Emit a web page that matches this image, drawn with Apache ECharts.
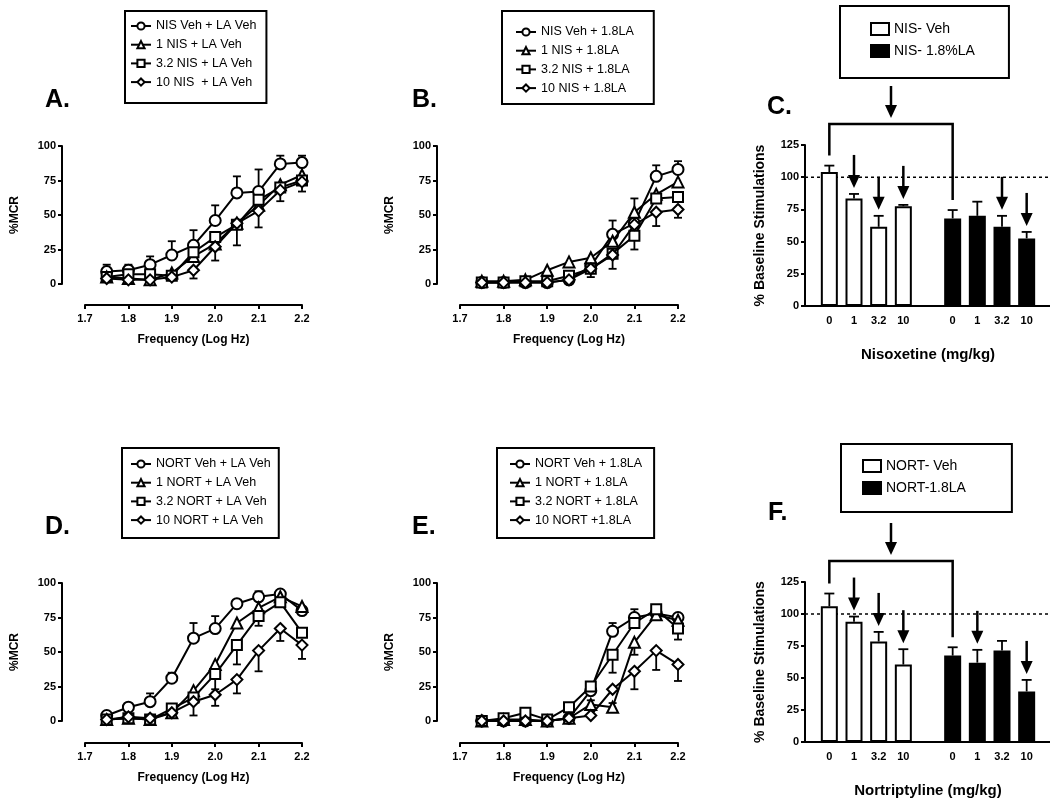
<!DOCTYPE html>
<html>
<head>
<meta charset="utf-8">
<title>Nisoxetine / Nortriptyline ICSS</title>
<script src="https://cdn.jsdelivr.net/npm/echarts@6/dist/echarts.min.js"></script>
<style>
    html, body { margin: 0; padding: 0; background: #fff; }
    #main { width: 1050px; height: 806px; }
</style>
</head>
<body>
<div id="main"></div>
<script>
    // frequency (log Hz) of each stimulation point
    var freq = [1.75, 1.8, 1.85, 1.9, 1.95, 2.0, 2.05, 2.1, 2.15, 2.2];

    // A. NIS + LA vehicle  (err > 0 drawn up, < 0 drawn down, 0 = hidden)
    var aNames = ['NIS Veh + LA Veh', '1 NIS + LA Veh', '3.2 NIS + LA Veh', '10 NIS  + LA Veh'];
    var aVeh = [9, 10, 14, 21, 28, 46, 66, 67, 87, 88];
    var aVehErr = [5, 4, 6, 10, 11, 11, 12, 16, 6, 5];
    var aN1 = [5, 4, 3, 8, 20, 29, 44, 57, 72, 79];
    var aN1Err = [0, 0, 0, 0, 0, 0, 0, 0, 0, 0];
    var aN32 = [5, 7, 7, 6, 23, 34, 43, 61, 70, 75];
    var aN32Err = [0, 0, 0, 0, 0, 0, 0, 0, 0, 0];
    var aN10 = [4, 3, 3, 5, 10, 27, 44, 53, 68, 74];
    var aN10Err = [0, 0, 0, 0, -6, -10, -16, -12, -8, -7];

    // B. NIS + 1.8 LA
    var bNames = ['NIS Veh + 1.8LA', '1 NIS + 1.8LA', '3.2 NIS + 1.8LA', '10 NIS + 1.8LA'];
    var bVeh = [1, 1, 1, 1, 3, 13, 36, 44, 78, 83];
    var bVehErr = [0, 0, 0, 0, 0, 0, 10, 0, 8, 6];
    var bN1 = [2, 2, 3, 10, 16, 19, 31, 52, 65, 74];
    var bN1Err = [0, 0, 0, 0, 0, 0, 0, 10, 0, 0];
    var bN32 = [1, 1, 2, 2, 6, 11, 22, 35, 62, 63];
    var bN32Err = [0, 0, 0, 0, 0, 0, 0, -10, 0, 0];
    var bN10 = [1, 1, 1, 1, 3, 11, 21, 43, 52, 54];
    var bN10Err = [0, 0, 0, 0, 0, -6, -10, 0, -10, -6];

    // D. NORT + LA vehicle
    var dNames = ['NORT Veh + LA Veh', '1 NORT + LA Veh', '3.2 NORT + LA Veh', '10 NORT + LA Veh'];
    var dVeh = [4, 10, 14, 31, 60, 67, 85, 90, 92, 80];
    var dVehErr = [0, 0, 6, 4, 11, 9, 0, 4, 2, 0];
    var dN1 = [1, 2, 1, 6, 22, 41, 71, 82, 90, 83];
    var dN1Err = [0, 0, 0, 0, 0, 0, 0, 0, 0, 0];
    var dN32 = [1, 2, 1, 9, 17, 34, 55, 76, 86, 64];
    var dN32Err = [0, 0, 0, 0, 0, -11, -14, -7, 0, 0];
    var dN10 = [1, 3, 2, 6, 14, 19, 30, 51, 67, 55];
    var dN10Err = [0, 0, 0, 0, -10, -8, -10, -15, -9, -10];

    // E. NORT + 1.8 LA
    var eNames = ['NORT Veh + 1.8LA', '1 NORT + 1.8LA', '3.2 NORT + 1.8LA', '10 NORT +1.8LA'];
    var eVeh = [0, 0, 0, 0, 2, 22, 65, 75, 78, 75];
    var eVehErr = [0, 0, 0, 0, 0, 0, 6, 6, 0, 0];
    var eN1 = [0, 1, 1, 0, 2, 12, 10, 57, 77, 73];
    var eN1Err = [0, 0, 0, 0, 0, 3, 3, -9, 0, 4];
    var eN32 = [0, 2, 6, 1, 10, 25, 48, 71, 81, 67];
    var eN32Err = [0, 0, 0, 0, 0, 0, -13, 0, 0, -8];
    var eN10 = [0, 0, 0, 0, 2, 4, 23, 36, 51, 41];
    var eN10Err = [0, 0, 0, 0, 0, 0, 0, -13, -14, -12];

    // C. / F. bar panels, dose labels (blank slot separates the groups)
    var doses = ['0', '1', '3.2', '10', '', '0', '1', '3.2', '10'];
    var cNames = ['NIS- Veh', 'NIS- 1.8%LA'];
    var cVeh = [104, 83.5, 61.5, 77.5];
    var cVehErr = [5, 3.5, 8.5, 1];
    var cLA = [68, 70, 61.5, 52.5];
    var cLAErr = [6.5, 11, 8.5, 5];
    var cArrows = [1, 2, 3, 7, 8];

    var fNames = ['NORT- Veh', 'NORT-1.8LA'];
    var fVeh = [106, 94, 78.5, 60.5];
    var fVehErr = [10, 4, 7.5, 12];
    var fLA = [67.5, 62, 71.5, 39.5];
    var fLAErr = [6.5, 10, 7.5, 9];
    var fArrows = [1, 2, 3, 6, 8];

    var FONT = 'Liberation Sans, Arial, sans-serif';
    var symbols = ['circle', 'triangle', 'rect', 'diamond'];
    var symSizes = [11, 11, 10, 11];

    var chart = echarts.init(document.getElementById('main'));

    var grids = [
        { left: 85, top: 146, width: 217, height: 138 },   // A
        { left: 460, top: 146, width: 218, height: 138 },  // B
        { left: 817, top: 145, width: 222, height: 161 },  // C
        { left: 85, top: 583, width: 217, height: 138 },   // D
        { left: 460, top: 583, width: 218, height: 138 },  // E
        { left: 817, top: 582, width: 222, height: 160 }   // F
    ];

    var xAxes = [], yAxes = [], series = [], legends = [];

    function freqAxis(g, xOff) {
        xAxes.push({
            gridIndex: g, type: 'value', min: 1.7, max: 2.2, interval: 0.1,
            offset: xOff,
            name: 'Frequency (Log Hz)', nameLocation: 'middle', nameGap: 29,
            nameTextStyle: { fontFamily: FONT, fontWeight: 'bold', fontSize: 12, color: '#000' },
            axisLine: { show: true, onZero: false, lineStyle: { color: '#000', width: 2 } },
            axisTick: { show: true, length: 4, lineStyle: { color: '#000', width: 2 } },
            axisLabel: { margin: 8, fontFamily: FONT, fontWeight: 'bold', fontSize: 11, color: '#000',
                formatter: function (v) { return v.toFixed(1); } },
            splitLine: { show: false }
        });
        yAxes.push({
            gridIndex: g, type: 'value', min: 0, max: 100, interval: 25,
            offset: 23,
            name: '%MCR', nameLocation: 'middle', nameGap: 41, nameRotate: 90,
            nameTextStyle: { fontFamily: FONT, fontWeight: 'bold', fontSize: 12, color: '#000' },
            axisLine: { show: true, lineStyle: { color: '#000', width: 2 } },
            axisTick: { show: true, length: 4, lineStyle: { color: '#000', width: 2 } },
            axisLabel: { margin: 6, fontFamily: FONT, fontWeight: 'bold', fontSize: 11, color: '#000' },
            splitLine: { show: false }
        });
    }

    function doseAxis(g, title) {
        xAxes.push({
            gridIndex: g, type: 'category', data: doses,
            name: title, nameLocation: 'middle', nameGap: 41,
            nameTextStyle: { fontFamily: FONT, fontWeight: 'bold', fontSize: 15, color: '#000' },
            axisLine: { show: false },
            axisTick: { show: false },
            axisLabel: { margin: 9, fontFamily: FONT, fontWeight: 'bold', fontSize: 11, color: '#000', interval: 0 },
            splitLine: { show: false }
        });
        yAxes.push({
            gridIndex: g, type: 'value', min: 0, max: 125, interval: 25,
            offset: 12,
            name: '% Baseline Stimulations', nameLocation: 'middle', nameGap: 38, nameRotate: 90,
            nameTextStyle: { fontFamily: FONT, fontWeight: 'bold', fontSize: 14, color: '#000' },
            axisLine: { show: true, lineStyle: { color: '#000', width: 2 } },
            axisTick: { show: true, length: 4, lineStyle: { color: '#000', width: 2 } },
            axisLabel: { margin: 6, fontFamily: FONT, fontWeight: 'bold', fontSize: 11, color: '#000' },
            splitLine: { show: false }
        });
    }

    // error bar renderer: value [x, y, err]
    function errRender(cap) {
        return function (params, api) {
            var x = api.value(0), y = api.value(1), e = api.value(2);
            var p0 = api.coord([x, y]);
            var p1 = api.coord([x, y + e]);
            var st = { stroke: '#000', lineWidth: 1.8 };
            return {
                type: 'group',
                children: [
                    { type: 'line', shape: { x1: p0[0], y1: p0[1], x2: p1[0], y2: p1[1] }, style: st },
                    { type: 'line', shape: { x1: p1[0] - cap, y1: p1[1], x2: p1[0] + cap, y2: p1[1] }, style: st }
                ]
            };
        };
    }

    function linePanel(g, names, vals, errs) {
        var errData = [];
        vals.forEach(function (v, k) {
            series.push({
                name: names[k], type: 'line', xAxisIndex: g, yAxisIndex: g,
                data: freq.map(function (f, i) { return [f, v[i]]; }),
                symbol: symbols[k], symbolSize: symSizes[k],
                lineStyle: { color: '#000', width: 2 },
                itemStyle: { color: '#fff', borderColor: '#000', borderWidth: 2 },
                z: 3 + k
            });
            freq.forEach(function (f, i) {
                if (errs[k][i] !== 0) errData.push([f, v[i], errs[k][i]]);
            });
        });
        series.push({
            type: 'custom', xAxisIndex: g, yAxisIndex: g, z: 2,
            encode: { x: 0, y: 1 },
            renderItem: errRender(4),
            data: errData
        });
    }

    function barPanel(g, names, veh, vehErr, la, laErr) {
        // white group in slots 0-3, black group in slots 5-8
        var vehData = doses.map(function (d, i) { return i < 4 ? veh[i] : '-'; });
        var laData = doses.map(function (d, i) { return i > 4 ? la[i - 5] : '-'; });
        series.push({
            name: names[0], type: 'bar', xAxisIndex: g, yAxisIndex: g,
            data: vehData, barWidth: 17, barGap: '-100%',
            itemStyle: { color: '#fff', borderColor: '#000', borderWidth: 2 }
        });
        series.push({
            name: names[1], type: 'bar', xAxisIndex: g, yAxisIndex: g,
            data: laData, barWidth: 17, barGap: '-100%',
            itemStyle: { color: '#000', borderColor: '#000', borderWidth: 2 }
        });
        var errData = [];
        veh.forEach(function (v, i) { errData.push([i, v, vehErr[i]]); });
        la.forEach(function (v, i) { errData.push([i + 5, v, laErr[i]]); });
        series.push({
            type: 'custom', xAxisIndex: g, yAxisIndex: g, z: 1,
            encode: { x: 0, y: 1 },
            renderItem: errRender(5),
            data: errData
        });
    }

    function lineLegend(names, left, top, padding) {
        legends.push({
            data: names, orient: 'vertical', left: left, top: top,
            padding: padding, borderColor: '#000', borderWidth: 2,
            itemWidth: 20, itemHeight: 9, itemGap: 4.7, selectedMode: false,
            textStyle: { fontFamily: FONT, fontSize: 12.5, color: '#000', lineHeight: 14 }
        });
    }

    function barLegend(names, left, top, padding) {
        legends.push({
            data: names, orient: 'vertical', left: left, top: top, icon: 'rect',
            padding: padding, borderColor: '#000', borderWidth: 2,
            itemWidth: 18, itemHeight: 12, itemGap: 6, selectedMode: false,
            textStyle: { fontFamily: FONT, fontSize: 14, color: '#000', lineHeight: 16 }
        });
    }

    freqAxis(0, 21);
    freqAxis(1, 21);
    doseAxis(2, 'Nisoxetine (mg/kg)');
    freqAxis(3, 22);
    freqAxis(4, 22);
    doseAxis(5, 'Nortriptyline (mg/kg)');

    linePanel(0, aNames, [aVeh, aN1, aN32, aN10], [aVehErr, aN1Err, aN32Err, aN10Err]);
    linePanel(1, bNames, [bVeh, bN1, bN32, bN10], [bVehErr, bN1Err, bN32Err, bN10Err]);
    barPanel(2, cNames, cVeh, cVehErr, cLA, cLAErr);
    linePanel(3, dNames, [dVeh, dN1, dN32, dN10], [dVehErr, dN1Err, dN32Err, dN10Err]);
    linePanel(4, eNames, [eVeh, eN1, eN32, eN10], [eVehErr, eN1Err, eN32Err, eN10Err]);
    barPanel(5, fNames, fVeh, fVehErr, fLA, fLAErr);

    lineLegend(aNames, 125, 11, [8, 10, 14, 5]);
    lineLegend(bNames, 502, 11, [14, 20, 9, 13]);
    barLegend(cNames, 840, 6, [15, 34, 19, 30]);
    lineLegend(dNames, 122, 448, [9, 8, 11, 8]);
    lineLegend(eNames, 497, 448, [9, 12, 11, 12]);
    barLegend(fNames, 841, 444, [14, 46, 16, 21]);

    var panelTitles = [
        { text: 'A.', left: 45, top: 88 },
        { text: 'B.', left: 412, top: 88 },
        { text: 'C.', left: 767, top: 95 },
        { text: 'D.', left: 45, top: 515 },
        { text: 'E.', left: 412, top: 515 },
        { text: 'F.', left: 768, top: 501 }
    ].map(function (t) {
        t.padding = 0;
        t.textStyle = { fontFamily: FONT, fontWeight: 'bold', fontSize: 25, color: '#000' };
        return t;
    });

    chart.setOption({
        animation: false,
        backgroundColor: '#fff',
        title: panelTitles,
        legend: legends,
        grid: grids,
        xAxis: xAxes,
        yAxis: yAxes,
        series: series
    });

    // annotations on the bar panels: baseline, 100% line, bracket and arrows
    function px(g, x, y) { return chart.convertToPixel({ gridIndex: g }, [x, y]); }

    function arrow(x, tail, tip) {
        return [
            { type: 'line', shape: { x1: x, y1: tail, x2: x, y2: tip - 10 }, style: { stroke: '#000', lineWidth: 2.5 } },
            { type: 'polygon', shape: { points: [[x - 6, tip - 13], [x + 6, tip - 13], [x, tip]] }, style: { fill: '#000' } }
        ];
    }

    function barAnnotations(g, veh, vehErr, la, laErr, arrows) {
        var out = [];
        var gr = grids[g];
        var axisX = gr.left - 12;
        var y0 = px(g, 0, 0)[1];
        var y100 = px(g, 0, 100)[1];
        out.push({ type: 'line', shape: { x1: axisX, y1: y0, x2: 1050, y2: y0 }, style: { stroke: '#000', lineWidth: 2 } });
        out.push({ type: 'line', shape: { x1: axisX, y1: y100, x2: 1050, y2: y100 }, style: { stroke: '#000', lineWidth: 1.5, lineDash: [3, 3] } });
        var tops = veh.map(function (v, i) { return v + vehErr[i]; })
            .concat([null])
            .concat(la.map(function (v, i) { return v + laErr[i]; }));
        var lx = px(g, 0, 0)[0], rx = px(g, 5, 0)[0];
        var ly = px(g, 0, tops[0])[1] - 10, ry = px(g, 5, tops[5])[1] - 10;
        var by = gr.top - 21;
        out.push({ type: 'polyline', shape: { points: [[lx, ly], [lx, by], [rx, by], [rx, ry]] },
            style: { stroke: '#000', lineWidth: 2.5, fill: null } });
        out = out.concat(arrow((lx + rx) / 2, by - 38, by - 6));
        arrows.forEach(function (s) {
            var p = px(g, s, tops[s]);
            out = out.concat(arrow(p[0], p[1] - 39, p[1] - 6));
        });
        return out;
    }

    chart.setOption({
        graphic: barAnnotations(2, cVeh, cVehErr, cLA, cLAErr, cArrows)
            .concat(barAnnotations(5, fVeh, fVehErr, fLA, fLAErr, fArrows))
    });
</script>
</body>
</html>
